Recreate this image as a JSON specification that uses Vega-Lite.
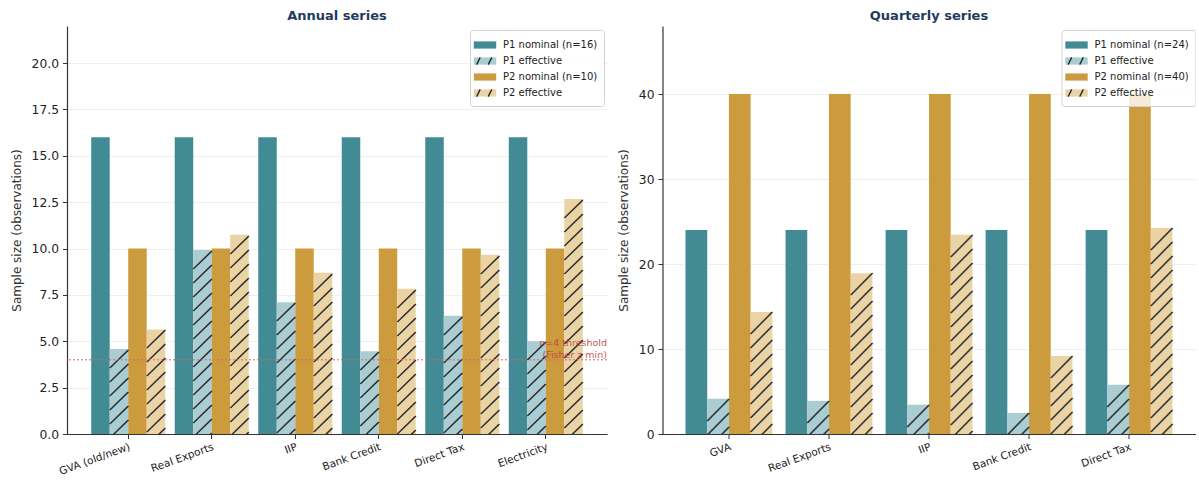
{
  "$schema": "https://vega.github.io/schema/vega-lite/v6.json",
  "padding": {"left": 10, "top": 10, "right": 0, "bottom": 0},
  "background": "white",
  "bounds": "flush",
  "spacing": 55.5,
  "config": {
    "font": "DejaVu Sans",
    "view": {"stroke": null},
    "axis": {"domainColor": "#333333", "tickColor": "#333333", "labelColor": "#222222", "titleColor": "#333333", "labelFont": "DejaVu Sans", "titleFont": "DejaVu Sans", "titleFontWeight": "normal", "gridColor": "#ebebeb", "gridWidth": 0.8, "tickSize": 4.5},
    "legend": {"labelFont": "DejaVu Sans"}
  },
  "resolve": {
    "scale": {"x": "independent", "y": "independent", "xOffset": "independent", "color": "independent", "shape": "independent"},
    "legend": {"color": "independent", "shape": "independent"}
  },
  "hconcat": [
    {
      "width": 540,
      "height": 408,
      "title": {"text": "Annual series", "fontSize": 13, "fontWeight": "bold", "color": "#1f3b5e", "anchor": "middle", "offset": 3},
      "data": {"values": [
        {"category": "GVA (old/new)", "series": "P1 nominal (n=16)", "measure": "nominal", "value": 16},
        {"category": "GVA (old/new)", "series": "P1 effective", "measure": "effective", "value": 4.58},
        {"category": "GVA (old/new)", "series": "P2 nominal (n=10)", "measure": "nominal", "value": 10},
        {"category": "GVA (old/new)", "series": "P2 effective", "measure": "effective", "value": 5.64},
        {"category": "Real Exports", "series": "P1 nominal (n=16)", "measure": "nominal", "value": 16},
        {"category": "Real Exports", "series": "P1 effective", "measure": "effective", "value": 9.92},
        {"category": "Real Exports", "series": "P2 nominal (n=10)", "measure": "nominal", "value": 10},
        {"category": "Real Exports", "series": "P2 effective", "measure": "effective", "value": 10.75},
        {"category": "IIP", "series": "P1 nominal (n=16)", "measure": "nominal", "value": 16},
        {"category": "IIP", "series": "P1 effective", "measure": "effective", "value": 7.1},
        {"category": "IIP", "series": "P2 nominal (n=10)", "measure": "nominal", "value": 10},
        {"category": "IIP", "series": "P2 effective", "measure": "effective", "value": 8.7},
        {"category": "Bank Credit", "series": "P1 nominal (n=16)", "measure": "nominal", "value": 16},
        {"category": "Bank Credit", "series": "P1 effective", "measure": "effective", "value": 4.46},
        {"category": "Bank Credit", "series": "P2 nominal (n=10)", "measure": "nominal", "value": 10},
        {"category": "Bank Credit", "series": "P2 effective", "measure": "effective", "value": 7.83},
        {"category": "Direct Tax", "series": "P1 nominal (n=16)", "measure": "nominal", "value": 16},
        {"category": "Direct Tax", "series": "P1 effective", "measure": "effective", "value": 6.38},
        {"category": "Direct Tax", "series": "P2 nominal (n=10)", "measure": "nominal", "value": 10},
        {"category": "Direct Tax", "series": "P2 effective", "measure": "effective", "value": 9.67},
        {"category": "Electricity", "series": "P1 nominal (n=16)", "measure": "nominal", "value": 16},
        {"category": "Electricity", "series": "P1 effective", "measure": "effective", "value": 5.0},
        {"category": "Electricity", "series": "P2 nominal (n=10)", "measure": "nominal", "value": 10},
        {"category": "Electricity", "series": "P2 effective", "measure": "effective", "value": 12.67}
      ]},
      "layer": [
        {
          "encoding": {
            "x": {"field": "category", "type": "nominal", "sort": null, "title": null,
                  "scale": {"paddingInner": 0.114, "paddingOuter": 0.29, "align": 0.5},
                  "axis": {"labelAngle": -20, "labelAlign": "right", "labelBaseline": "top", "labelFontSize": 10.5, "labelPadding": 3, "zindex": 1, "domainWidth": 1.2}},
            "xOffset": {"field": "series", "type": "nominal", "scale": {"domain": ["P1 nominal (n=16)", "P1 effective", "P2 nominal (n=10)", "P2 effective"], "paddingInner": 0, "paddingOuter": 0}},
            "y": {"field": "value", "type": "quantitative", "scale": {"domain": [0, 22], "nice": false},
                  "axis": {"title": "Sample size (observations)", "titleFontSize": 12, "titlePadding": 8, "labelFontSize": 12.3, "labelPadding": 4, "values": [0, 2.5, 5, 7.5, 10, 12.5, 15, 17.5, 20], "format": ".1f", "grid": true, "domainWidth": 1.2}}
          },
          "layer": [
            {
              "mark": {"type": "bar"},
              "encoding": {
                "color": {"field": "series", "type": "nominal",
                  "sort": ["P1 nominal (n=16)", "P1 effective", "P2 nominal (n=10)", "P2 effective"],
                  "scale": {"range": ["#428a94", "#a9cdd3", "#cc9b3e", "#ead4a5"]},
                  "legend": {"orient": "none", "legendX": 403, "legendY": 4, "title": null, "zindex": 1,
                    "symbolType": "M-1.4,-0.45H1.4V0.45H-1.4Z", "symbolSize": 256, "symbolStrokeWidth": 1.3, "symbolStrokeColor": "transparent",
                    "labelFontSize": 10, "labelColor": "#222222", "labelOffset": 9, "rowPadding": 0, "padding": 6,
                    "fillColor": "rgba(255,255,255,0.8)", "strokeColor": "#d0d0d0", "cornerRadius": 3}}
              }
            },
            {
              "transform": [{"filter": "datum.measure == 'effective'"}],
              "mark": {"type": "text", "clip": true, "font": "Noto Sans CJK SC", "fontSize": 18.5, "lineHeight": 14, "baseline": "top", "align": "center", "dy": 2, "color": "#222222", "stroke": "#222222", "strokeWidth": 0.5,
                "text": ["╱","╱","╱","╱","╱","╱","╱","╱","╱","╱","╱","╱","╱","╱","╱","╱","╱","╱","╱","╱","╱","╱","╱","╱","╱","╱","╱","╱","╱","╱","╱","╱","╱","╱","╱","╱"]}
            },
            {
              "mark": {"type": "point", "opacity": 0},
              "encoding": {
                "shape": {"field": "series", "type": "nominal",
                  "scale": {"domain": ["P1 nominal (n=16)", "P1 effective", "P2 nominal (n=10)", "P2 effective"],
                            "range": ["M-1.4,-0.45L-1.4,-0.45M1.4,0.45L1.4,0.45", "M-1.4,-0.45L-1.4,-0.45M1.4,0.45L1.4,0.45M-1.05,0.45L-0.6,-0.45M0.4,0.45L0.85,-0.45", "M-1.4,-0.45L-1.4,-0.45M1.4,0.45L1.4,0.45", "M-1.4,-0.45L-1.4,-0.45M1.4,0.45L1.4,0.45M-1.05,0.45L-0.6,-0.45M0.4,0.45L0.85,-0.45"]},
                  "legend": {"orient": "none", "legendX": 403, "legendY": 4, "title": null, "zindex": 2,
                    "symbolSize": 256, "symbolStrokeWidth": 1.3, "symbolStrokeColor": "#222222", "symbolFillColor": "transparent", "symbolOpacity": 1,
                    "labelFontSize": 10, "labelOpacity": 0, "labelOffset": 9, "rowPadding": 0, "padding": 6}}
              }
            }
          ]
        },
        {
          "data": {"values": [{"threshold": 4}]},
          "mark": {"type": "rule", "strokeDash": [2, 2], "color": "#d46a68", "strokeWidth": 1},
          "encoding": {"y": {"field": "threshold", "type": "quantitative"}}
        },
        {
          "data": {"values": [{"threshold": 4}]},
          "mark": {"type": "text", "align": "right", "baseline": "bottom", "dy": -12, "fontSize": 9.5, "lineHeight": 12, "color": "#b8403c", "opacity": 0.85, "text": ["n=4 threshold", "(Fisher z min)"]},
          "encoding": {
            "y": {"field": "threshold", "type": "quantitative"},
            "x": {"value": "width"}
          }
        }
      ]
    },
    {
      "width": 533,
      "height": 408,
      "title": {"text": "Quarterly series", "fontSize": 13, "fontWeight": "bold", "color": "#1f3b5e", "anchor": "middle", "offset": 3},
      "data": {"values": [
        {"category": "GVA", "series": "P1 nominal (n=24)", "measure": "nominal", "value": 24},
        {"category": "GVA", "series": "P1 effective", "measure": "effective", "value": 4.15},
        {"category": "GVA", "series": "P2 nominal (n=40)", "measure": "nominal", "value": 40},
        {"category": "GVA", "series": "P2 effective", "measure": "effective", "value": 14.35},
        {"category": "Real Exports", "series": "P1 nominal (n=24)", "measure": "nominal", "value": 24},
        {"category": "Real Exports", "series": "P1 effective", "measure": "effective", "value": 3.9},
        {"category": "Real Exports", "series": "P2 nominal (n=40)", "measure": "nominal", "value": 40},
        {"category": "Real Exports", "series": "P2 effective", "measure": "effective", "value": 18.9},
        {"category": "IIP", "series": "P1 nominal (n=24)", "measure": "nominal", "value": 24},
        {"category": "IIP", "series": "P1 effective", "measure": "effective", "value": 3.45},
        {"category": "IIP", "series": "P2 nominal (n=40)", "measure": "nominal", "value": 40},
        {"category": "IIP", "series": "P2 effective", "measure": "effective", "value": 23.45},
        {"category": "Bank Credit", "series": "P1 nominal (n=24)", "measure": "nominal", "value": 24},
        {"category": "Bank Credit", "series": "P1 effective", "measure": "effective", "value": 2.47},
        {"category": "Bank Credit", "series": "P2 nominal (n=40)", "measure": "nominal", "value": 40},
        {"category": "Bank Credit", "series": "P2 effective", "measure": "effective", "value": 9.18},
        {"category": "Direct Tax", "series": "P1 nominal (n=24)", "measure": "nominal", "value": 24},
        {"category": "Direct Tax", "series": "P1 effective", "measure": "effective", "value": 5.8},
        {"category": "Direct Tax", "series": "P2 nominal (n=40)", "measure": "nominal", "value": 40},
        {"category": "Direct Tax", "series": "P2 effective", "measure": "effective", "value": 24.24}
      ]},
      "encoding": {
        "x": {"field": "category", "type": "nominal", "sort": null, "title": null,
              "scale": {"paddingInner": 0.132, "paddingOuter": 0.23, "align": 0.5},
              "axis": {"labelAngle": -20, "labelAlign": "right", "labelBaseline": "top", "labelFontSize": 10.5, "labelPadding": 3, "zindex": 1, "domainWidth": 1.2}},
        "xOffset": {"field": "series", "type": "nominal", "scale": {"domain": ["P1 nominal (n=24)", "P1 effective", "P2 nominal (n=40)", "P2 effective"], "paddingInner": 0, "paddingOuter": 0}},
        "y": {"field": "value", "type": "quantitative", "scale": {"domain": [0, 48], "nice": false},
              "axis": {"title": "Sample size (observations)", "titleFontSize": 12, "titlePadding": 8, "labelFontSize": 12.3, "labelPadding": 4, "values": [0, 10, 20, 30, 40], "grid": true, "domainWidth": 1.2}}
      },
      "layer": [
        {
          "mark": {"type": "bar"},
          "encoding": {
            "color": {"field": "series", "type": "nominal",
              "sort": ["P1 nominal (n=24)", "P1 effective", "P2 nominal (n=40)", "P2 effective"],
              "scale": {"range": ["#428a94", "#a9cdd3", "#cc9b3e", "#ead4a5"]},
              "legend": {"orient": "none", "legendX": 399, "legendY": 4, "title": null, "zindex": 1,
                "symbolType": "M-1.4,-0.45H1.4V0.45H-1.4Z", "symbolSize": 256, "symbolStrokeWidth": 1.3, "symbolStrokeColor": "transparent",
                "labelFontSize": 10, "labelColor": "#222222", "labelOffset": 9, "rowPadding": 0, "padding": 6,
                "fillColor": "rgba(255,255,255,0.8)", "strokeColor": "#d0d0d0", "cornerRadius": 3}}
          }
        },
        {
          "transform": [{"filter": "datum.measure == 'effective'"}],
          "mark": {"type": "text", "clip": true, "font": "Noto Sans CJK SC", "fontSize": 21.75, "lineHeight": 14, "baseline": "top", "align": "center", "dy": 2, "color": "#222222", "stroke": "#222222", "strokeWidth": 0.5,
            "text": ["╱","╱","╱","╱","╱","╱","╱","╱","╱","╱","╱","╱","╱","╱","╱","╱","╱","╱","╱","╱","╱","╱","╱","╱","╱","╱","╱","╱","╱","╱","╱","╱","╱","╱","╱","╱"]}
        },
        {
          "mark": {"type": "point", "opacity": 0},
          "encoding": {
            "shape": {"field": "series", "type": "nominal",
              "scale": {"domain": ["P1 nominal (n=24)", "P1 effective", "P2 nominal (n=40)", "P2 effective"],
                        "range": ["M-1.4,-0.45L-1.4,-0.45M1.4,0.45L1.4,0.45", "M-1.4,-0.45L-1.4,-0.45M1.4,0.45L1.4,0.45M-1.05,0.45L-0.6,-0.45M0.4,0.45L0.85,-0.45", "M-1.4,-0.45L-1.4,-0.45M1.4,0.45L1.4,0.45", "M-1.4,-0.45L-1.4,-0.45M1.4,0.45L1.4,0.45M-1.05,0.45L-0.6,-0.45M0.4,0.45L0.85,-0.45"]},
              "legend": {"orient": "none", "legendX": 399, "legendY": 4, "title": null, "zindex": 2,
                "symbolSize": 256, "symbolStrokeWidth": 1.3, "symbolStrokeColor": "#222222", "symbolFillColor": "transparent", "symbolOpacity": 1,
                "labelFontSize": 10, "labelOpacity": 0, "labelOffset": 9, "rowPadding": 0, "padding": 6}}
          }
        }
      ]
    }
  ]
}
